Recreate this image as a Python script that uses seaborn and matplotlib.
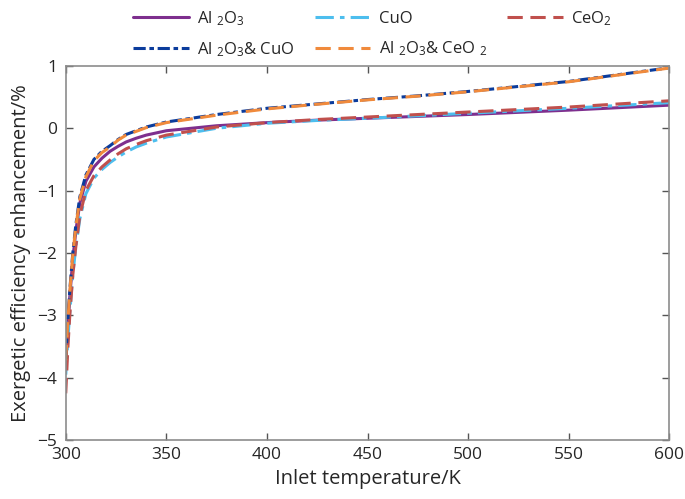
import numpy as np
import pandas as pd
import seaborn as sns
import matplotlib
matplotlib.use("Agg")
import matplotlib.pyplot as plt

sns.set_theme(style="white")
plt.rcParams["font.family"] = ["Open Sans", "DejaVu Sans"]
plt.rcParams["mathtext.fontset"] = "custom"
plt.rcParams["mathtext.rm"] = "Open Sans"
plt.rcParams["mathtext.it"] = "Open Sans"

# values
temp = [300, 301, 302, 303.5, 305, 307, 310, 314, 318, 322, 326, 330, 335, 340, 350,
        375, 400, 425, 450, 475, 500, 525, 550, 575, 600]
al2o3 = [-3.80, -3.20, -2.70, -2.10, -1.65, -1.20, -0.85, -0.62, -0.48, -0.37, -0.29, -0.22, -0.16, -0.11, -0.04,
         0.04, 0.09, 0.13, 0.16, 0.19, 0.22, 0.255, 0.29, 0.33, 0.37]
cuo = [-3.95, -3.40, -2.95, -2.35, -1.90, -1.45, -1.05, -0.80, -0.66, -0.55, -0.46, -0.38, -0.30, -0.24, -0.14,
       0.00, 0.08, 0.125, 0.16, 0.20, 0.24, 0.28, 0.32, 0.365, 0.41]
ceo2 = [-4.25, -3.55, -3.00, -2.35, -1.90, -1.40, -1.00, -0.76, -0.62, -0.51, -0.41, -0.33, -0.26, -0.20, -0.11,
        0.02, 0.09, 0.14, 0.18, 0.22, 0.26, 0.30, 0.34, 0.39, 0.44]
al2o3_cuo = [-3.70, -3.10, -2.60, -2.00, -1.55, -1.10, -0.75, -0.50, -0.37, -0.28, -0.18, -0.10, -0.04, 0.02, 0.10,
             0.22, 0.32, 0.39, 0.46, 0.52, 0.59, 0.67, 0.75, 0.86, 0.97]
al2o3_ceo2 = [-3.72, -3.12, -2.62, -2.03, -1.58, -1.13, -0.78, -0.52, -0.39, -0.30, -0.19, -0.11, -0.05, 0.01, 0.09,
              0.21, 0.31, 0.385, 0.455, 0.515, 0.585, 0.665, 0.745, 0.855, 0.965]

labels = ["Al $_2$O$_3$", "CuO", "CeO$_2$", "Al $_2$O$_3$& CuO", "Al $_2$O$_3$& CeO $_2$"]
series = [al2o3, cuo, ceo2, al2o3_cuo, al2o3_ceo2]
colors = ["#7E2F8E", "#4DBEEE", "#C0504D", "#0B3C9C", "#F08A3C"]
styles = ["-", (0, (6, 2, 1.5, 2)), (0, (5, 2.5)), (0, (4, 1.2, 1.5, 1.2)), (0, (5, 2.5))]

fig = plt.figure(figsize=(6.85, 4.99), dpi=100)
ax = fig.add_axes([0.096, 0.118, 0.881, 0.750])

for vals, lab, col, ls in zip(series, labels, colors, styles):
    sns.lineplot(x=temp, y=vals, ax=ax, color=col, linestyle=ls, lw=2.2, label=lab)

ax.set_xlim(300, 600)
ax.set_ylim(-5, 1)
ax.set_xticks(range(300, 601, 50))
ax.set_yticks(range(-5, 2))
ax.tick_params(direction="in", length=5, width=1, color="#555555", labelsize=12.5,
               top=True, right=True, bottom=True, left=True)
ax.tick_params(axis="x", pad=5)
ax.tick_params(axis="y", pad=6)
for s in ax.spines.values():
    s.set_color("#8c8c8c")
    s.set_linewidth(1.2)
ax.set_xlabel("Inlet temperature/K", fontsize=14.5, labelpad=4)
ax.set_ylabel("Exergetic efficiency enhancement/%", fontsize=14.5, labelpad=5)

handles, labs = ax.get_legend_handles_labels()
ax.get_legend().remove()
order = [0, 3, 1, 4, 2]
fig.legend([handles[i] for i in order], [labs[i] for i in order], ncol=3,
           loc="upper left", bbox_to_anchor=(118 / 685, 1.012),
           frameon=False, fontsize=12, handlelength=3.35, columnspacing=1.2,
           handletextpad=0.5, labelspacing=0.75)

fig.savefig("out.png", dpi=100)
